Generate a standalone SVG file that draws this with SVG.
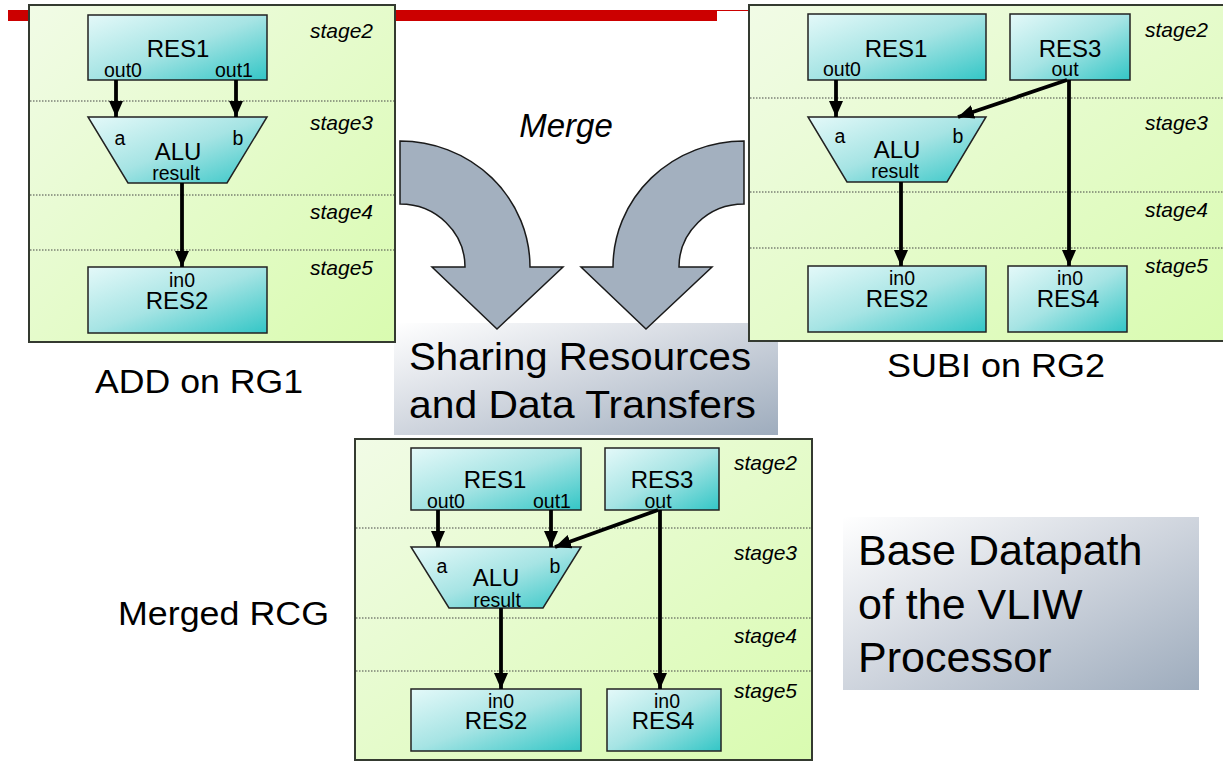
<svg xmlns="http://www.w3.org/2000/svg" width="1223" height="762" viewBox="0 0 1223 762">
  <defs>
    <linearGradient id="panelFill" x1="0" y1="0" x2="1" y2="1">
      <stop offset="0" stop-color="#f1fbe6"/>
      <stop offset="1" stop-color="#d9fbb0"/>
    </linearGradient>
    <linearGradient id="resFill" x1="0" y1="0" x2="1" y2="1">
      <stop offset="0" stop-color="#e4f9f9"/>
      <stop offset="0.5" stop-color="#a6e4e4"/>
      <stop offset="1" stop-color="#33c6c6"/>
    </linearGradient>
    <linearGradient id="noteFill" x1="0" y1="0" x2="1" y2="1">
      <stop offset="0" stop-color="#ffffff"/>
      <stop offset="0.45" stop-color="#d4d9e1"/>
      <stop offset="1" stop-color="#9eacbd"/>
    </linearGradient>
    <marker id="arrow" markerUnits="userSpaceOnUse" markerWidth="18" markerHeight="16" refX="16" refY="7" orient="auto">
      <path d="M0,0 L16,7 L0,14 Z" fill="#000"/>
    </marker>
    <style>
      .panel { fill: url(#panelFill); stroke: #343a30; stroke-width: 2; }
      .stageline { stroke: #444; stroke-width: 1; stroke-dasharray: 1.5 1.5; }
      .res { fill: url(#resFill); stroke: #222; stroke-width: 1.5; }
      .wire { stroke: #000; stroke-width: 3.8; fill: none; marker-end: url(#arrow); }
      .big { font-family: "Liberation Sans", Arial, sans-serif; font-size: 24px; fill: #000; text-anchor: middle; }
      .port { font-family: "Liberation Sans", Arial, sans-serif; font-size: 19.5px; fill: #000; text-anchor: middle; }
      .stage { font-family: "Liberation Sans", Arial, sans-serif; font-size: 21px; font-style: italic; fill: #000; }
      .caption { font-family: "Liberation Sans", Arial, sans-serif; font-size: 33px; fill: #000; }
      .note { font-family: "Liberation Sans", Arial, sans-serif; fill: #000; }
      .merge { fill: #a3b0bf; stroke: #1a1a1a; stroke-width: 1.5; }
    </style>
  </defs>

  <rect width="1223" height="762" fill="#fff"/>

  <!-- title bar accent -->
  <rect x="8" y="10" width="709" height="11" fill="#cc0000"/>
  <line x1="717" y1="10.5" x2="750" y2="10.5" stroke="#cc0000" stroke-width="1"/>

  <!-- shared-resources note -->
  <g id="note-sharing">
    <rect x="394" y="323" width="384" height="112" fill="url(#noteFill)"/>
    <text class="note" font-size="39" x="409" y="370" textLength="342" lengthAdjust="spacingAndGlyphs">Sharing Resources</text>
    <text class="note" font-size="39" x="409" y="418" textLength="347" lengthAdjust="spacingAndGlyphs">and Data Transfers</text>
  </g>

  <!-- ===== ADD on RG1 ===== -->
  <g id="rg1">
    <rect class="panel" x="29" y="5" width="366" height="337"/>
    <line class="stageline" x1="30" y1="101" x2="394" y2="101"/>
    <line class="stageline" x1="30" y1="195" x2="394" y2="195"/>
    <line class="stageline" x1="30" y1="250" x2="394" y2="250"/>
    <text class="stage" x="310" y="38">stage2</text>
    <text class="stage" x="310" y="130">stage3</text>
    <text class="stage" x="310" y="219">stage4</text>
    <text class="stage" x="310" y="275">stage5</text>
  </g>
  <g id="rg1-res1">
    <rect class="res" x="88" y="15" width="179" height="65"/>
    <text class="big" x="178" y="57">RES1</text>
    <text class="port" x="123" y="77">out0</text>
    <text class="port" x="234" y="77">out1</text>
  </g>
  <g id="rg1-alu">
    <polygon class="res" points="88,117 267,117 227,183 128,183"/>
    <text class="port" x="120" y="145">a</text>
    <text class="port" x="238" y="145">b</text>
    <text class="big" x="178" y="160">ALU</text>
    <text class="port" x="176" y="180">result</text>
  </g>
  <g id="rg1-res2">
    <rect class="res" x="88" y="267" width="179" height="66"/>
    <text class="port" x="182" y="287">in0</text>
    <text class="big" x="177" y="309">RES2</text>
  </g>
  <text class="caption" x="95" y="393" textLength="208" lengthAdjust="spacingAndGlyphs">ADD on RG1</text>

  <!-- ===== SUBI on RG2 ===== -->
  <g id="rg2">
    <rect class="panel" x="749" y="5" width="480" height="336"/>
    <line class="stageline" x1="750" y1="98" x2="1223" y2="98"/>
    <line class="stageline" x1="750" y1="192" x2="1223" y2="192"/>
    <line class="stageline" x1="750" y1="248" x2="1223" y2="248"/>
    <text class="stage" x="1145" y="37">stage2</text>
    <text class="stage" x="1145" y="130">stage3</text>
    <text class="stage" x="1145" y="217">stage4</text>
    <text class="stage" x="1145" y="273">stage5</text>
  </g>
  <g id="rg2-res1">
    <rect class="res" x="808" y="14" width="178" height="66"/>
    <text class="big" x="896" y="57">RES1</text>
    <text class="port" x="842" y="76">out0</text>
  </g>
  <g id="rg2-res3">
    <rect class="res" x="1010" y="14" width="120" height="66"/>
    <text class="big" x="1070" y="57">RES3</text>
    <text class="port" x="1065" y="76">out</text>
  </g>
  <g id="rg2-alu">
    <polygon class="res" points="808,117 986,117 947,182 847,182"/>
    <text class="port" x="840" y="143">a</text>
    <text class="port" x="958" y="143">b</text>
    <text class="big" x="897" y="158">ALU</text>
    <text class="port" x="895" y="178">result</text>
  </g>
  <g id="rg2-res2">
    <rect class="res" x="808" y="266" width="178" height="66"/>
    <text class="port" x="902" y="285">in0</text>
    <text class="big" x="897" y="307">RES2</text>
  </g>
  <g id="rg2-res4">
    <rect class="res" x="1008" y="266" width="119" height="66"/>
    <text class="port" x="1070" y="285">in0</text>
    <text class="big" x="1068" y="307">RES4</text>
  </g>
  <text class="caption" x="887" y="377" textLength="218" lengthAdjust="spacingAndGlyphs">SUBI on RG2</text>

  <!-- ===== merged RCG ===== -->
  <g id="merged">
    <rect class="panel" x="355" y="439" width="457" height="321"/>
    <line class="stageline" x1="356" y1="528" x2="811" y2="528"/>
    <line class="stageline" x1="356" y1="618" x2="811" y2="618"/>
    <line class="stageline" x1="356" y1="671" x2="811" y2="671"/>
    <text class="stage" x="734" y="470">stage2</text>
    <text class="stage" x="734" y="560">stage3</text>
    <text class="stage" x="734" y="643">stage4</text>
    <text class="stage" x="734" y="698">stage5</text>
  </g>
  <g id="m-res1">
    <rect class="res" x="411" y="448" width="170" height="62"/>
    <text class="big" x="495" y="488">RES1</text>
    <text class="port" x="446" y="508">out0</text>
    <text class="port" x="552" y="508">out1</text>
  </g>
  <g id="m-res3">
    <rect class="res" x="605" y="448" width="114" height="62"/>
    <text class="big" x="662" y="488">RES3</text>
    <text class="port" x="658" y="508">out</text>
  </g>
  <g id="m-alu">
    <polygon class="res" points="411,547 581,547 543,608 449,608"/>
    <text class="port" x="442" y="573">a</text>
    <text class="port" x="555" y="573">b</text>
    <text class="big" x="496" y="586">ALU</text>
    <text class="port" x="497" y="607">result</text>
  </g>
  <g id="m-res2">
    <rect class="res" x="411" y="689" width="170" height="62"/>
    <text class="port" x="501" y="708">in0</text>
    <text class="big" x="496" y="729">RES2</text>
  </g>
  <g id="m-res4">
    <rect class="res" x="607" y="689" width="114" height="62"/>
    <text class="port" x="667" y="708">in0</text>
    <text class="big" x="663" y="729">RES4</text>
  </g>
  <text class="caption" x="118" y="625" textLength="211" lengthAdjust="spacingAndGlyphs">Merged RCG</text>

  <!-- data transfers -->
  <g id="connectors">
    <line class="wire" x1="116" y1="80" x2="116" y2="117"/>
    <line class="wire" x1="236" y1="80" x2="236" y2="117"/>
    <line class="wire" x1="182" y1="183" x2="182" y2="267"/>

    <line class="wire" x1="836" y1="80" x2="836" y2="117"/>
    <line class="wire" x1="1067" y1="80" x2="958" y2="117"/>
    <line class="wire" x1="1069" y1="80" x2="1069" y2="266"/>
    <line class="wire" x1="901" y1="182" x2="901" y2="266"/>

    <line class="wire" x1="438" y1="510" x2="438" y2="547"/>
    <line class="wire" x1="551" y1="510" x2="551" y2="547"/>
    <line class="wire" x1="658" y1="510" x2="555" y2="547"/>
    <line class="wire" x1="660" y1="510" x2="660" y2="689"/>
    <line class="wire" x1="501" y1="608" x2="501" y2="689"/>
  </g>

  <!-- merge arrows -->
  <g id="merge">
    <text class="note" font-size="33" font-style="italic" x="566" y="137" text-anchor="middle">Merge</text>
    <path class="merge" d="M400,141 A130,126 0 0 1 530,267 L563,267 L497,329 L432,267 L465,267 A65,63 0 0 0 400,204 Z"/>
    <path class="merge" d="M744,141 A131,126 0 0 0 613,267 L581,267 L646,329 L712,267 L679,267 A65,63 0 0 1 744,204 Z"/>
  </g>

  <!-- base datapath note -->
  <g id="note-base">
    <rect x="843" y="517" width="356" height="173" fill="url(#noteFill)"/>
    <text class="note" font-size="43" x="858" y="565">Base Datapath</text>
    <text class="note" font-size="43" x="858" y="619">of the VLIW</text>
    <text class="note" font-size="43" x="858" y="672">Processor</text>
  </g>
</svg>
